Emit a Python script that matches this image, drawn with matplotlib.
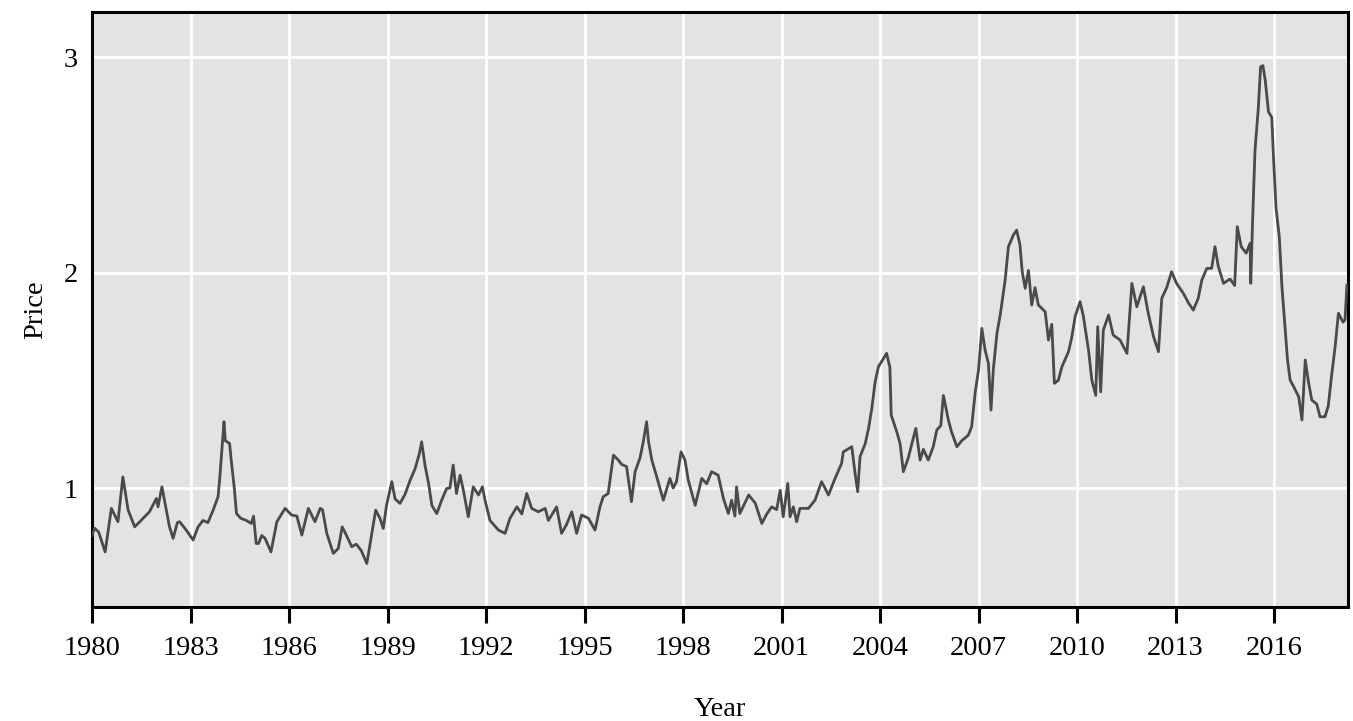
import matplotlib
matplotlib.use("Agg")
import matplotlib.pyplot as plt

years = [
    1980.00, 1980.08, 1980.20, 1980.40, 1980.59, 1980.79, 1980.94, 1981.10, 1981.30, 1981.75,
    1981.96, 1982.01, 1982.13, 1982.36, 1982.47, 1982.60, 1982.67, 1982.87, 1983.08, 1983.23,
    1983.38, 1983.53, 1983.69, 1983.84, 1983.89, 1984.02, 1984.06, 1984.19, 1984.24, 1984.34,
    1984.40, 1984.53, 1984.70, 1984.85, 1984.92, 1985.00, 1985.07, 1985.17, 1985.27, 1985.45,
    1985.63, 1985.88, 1986.08, 1986.24, 1986.39, 1986.59, 1986.79, 1986.95, 1987.02, 1987.15,
    1987.35, 1987.50, 1987.62, 1987.72, 1987.91, 1988.05, 1988.20, 1988.37, 1988.47, 1988.57,
    1988.64, 1988.77, 1988.87, 1988.97, 1989.13, 1989.23, 1989.38, 1989.53, 1989.69, 1989.84,
    1989.97, 1990.04, 1990.14, 1990.25, 1990.35, 1990.50, 1990.65, 1990.80, 1990.90, 1991.00,
    1991.10, 1991.21, 1991.31, 1991.46, 1991.61, 1991.77, 1991.89, 1991.97, 1992.12, 1992.38,
    1992.58, 1992.73, 1992.94, 1993.09, 1993.24, 1993.39, 1993.59, 1993.80, 1993.90, 1994.15,
    1994.30, 1994.45, 1994.61, 1994.76, 1994.91, 1995.12, 1995.32, 1995.47, 1995.57, 1995.72,
    1995.88, 1996.03, 1996.13, 1996.28, 1996.43, 1996.54, 1996.69, 1996.79, 1996.89, 1996.95,
    1997.05, 1997.20, 1997.40, 1997.60, 1997.70, 1997.80, 1997.94, 1998.06, 1998.16, 1998.37,
    1998.57, 1998.72, 1998.87, 1999.07, 1999.23, 1999.38, 1999.48, 1999.58, 1999.63, 1999.73,
    2000.00, 2000.20, 2000.40, 2000.55, 2000.70, 2000.85, 2000.96, 2001.05, 2001.19, 2001.26,
    2001.36, 2001.46, 2001.56, 2001.82, 2002.02, 2002.22, 2002.43, 2002.63, 2002.83, 2002.88,
    2003.14, 2003.24, 2003.32, 2003.39, 2003.55, 2003.65, 2003.75, 2003.85, 2003.95, 2004.20,
    2004.30, 2004.34, 2004.51, 2004.61, 2004.71, 2004.86, 2004.97, 2005.09, 2005.22, 2005.32,
    2005.47, 2005.62, 2005.73, 2005.85, 2005.93, 2006.08, 2006.18, 2006.34, 2006.49, 2006.69,
    2006.79, 2006.90, 2007.00, 2007.10, 2007.20, 2007.30, 2007.38, 2007.45, 2007.56, 2007.66,
    2007.81, 2007.91, 2008.06, 2008.16, 2008.26, 2008.33, 2008.42, 2008.52, 2008.62, 2008.72,
    2008.82, 2009.03, 2009.13, 2009.23, 2009.31, 2009.43, 2009.54, 2009.74, 2009.84, 2009.94,
    2010.09, 2010.19, 2010.35, 2010.45, 2010.57, 2010.63, 2010.72, 2010.80, 2010.96, 2011.10,
    2011.31, 2011.52, 2011.67, 2011.82, 2012.02, 2012.17, 2012.33, 2012.48, 2012.58, 2012.73,
    2012.88, 2013.03, 2013.24, 2013.39, 2013.54, 2013.69, 2013.80, 2013.95, 2014.10, 2014.20,
    2014.30, 2014.46, 2014.66, 2014.80, 2014.88, 2015.00, 2015.15, 2015.27, 2015.29, 2015.35,
    2015.42, 2015.52, 2015.59, 2015.66, 2015.73, 2015.83, 2015.93, 2015.98, 2016.06, 2016.16,
    2016.24, 2016.34, 2016.41, 2016.49, 2016.60, 2016.75, 2016.85, 2016.95, 2017.05, 2017.15,
    2017.30, 2017.40, 2017.55, 2017.65, 2017.76, 2017.86, 2017.96, 2018.10, 2018.16, 2018.22,
]

prices = [
    0.780, 0.814, 0.797, 0.704, 0.906, 0.844, 1.052, 0.898, 0.820, 0.890,
    0.952, 0.913, 1.006, 0.820, 0.767, 0.840, 0.844, 0.805, 0.759, 0.820,
    0.850, 0.840, 0.898, 0.960, 1.045, 1.308, 1.220, 1.207, 1.130, 0.990,
    0.882, 0.860, 0.850, 0.836, 0.870, 0.743, 0.743, 0.780, 0.767, 0.704,
    0.844, 0.906, 0.875, 0.870, 0.782, 0.906, 0.844, 0.906, 0.900, 0.790,
    0.697, 0.720, 0.820, 0.790, 0.728, 0.740, 0.710, 0.650, 0.743, 0.836,
    0.898, 0.860, 0.813, 0.920, 1.030, 0.950, 0.929, 0.970, 1.037, 1.090,
    1.160, 1.215, 1.107, 1.022, 0.920, 0.882, 0.944, 0.998, 1.000, 1.107,
    0.975, 1.060, 0.990, 0.867, 1.006, 0.968, 1.006, 0.944, 0.850, 0.805,
    0.790, 0.860, 0.913, 0.880, 0.975, 0.906, 0.890, 0.906, 0.850, 0.913,
    0.790, 0.830, 0.890, 0.790, 0.875, 0.860, 0.805, 0.913, 0.960, 0.975,
    1.153, 1.130, 1.110, 1.100, 0.937, 1.076, 1.140, 1.215, 1.308, 1.215,
    1.130, 1.052, 0.944, 1.045, 1.000, 1.030, 1.168, 1.130, 1.037, 0.920,
    1.045, 1.020, 1.076, 1.060, 0.952, 0.882, 0.944, 0.870, 1.006, 0.882,
    0.968, 0.930, 0.836, 0.880, 0.913, 0.900, 0.990, 0.867, 1.022, 0.867,
    0.913, 0.844, 0.906, 0.906, 0.944, 1.030, 0.968, 1.045, 1.115, 1.168,
    1.192, 1.068, 0.983, 1.145, 1.207, 1.277, 1.370, 1.493, 1.563, 1.625,
    1.560, 1.339, 1.261, 1.207, 1.076, 1.140, 1.207, 1.277, 1.130, 1.180,
    1.130, 1.192, 1.270, 1.290, 1.430, 1.316, 1.260, 1.192, 1.220, 1.246,
    1.285, 1.447, 1.548, 1.741, 1.640, 1.579, 1.362, 1.550, 1.718, 1.803,
    1.965, 2.120, 2.174, 2.197, 2.130, 2.004, 1.927, 2.010, 1.849, 1.930,
    1.850, 1.818, 1.687, 1.760, 1.486, 1.500, 1.563, 1.633, 1.700, 1.795,
    1.865, 1.800, 1.640, 1.501, 1.430, 1.749, 1.447, 1.733, 1.803, 1.710,
    1.687, 1.625, 1.950, 1.841, 1.934, 1.810, 1.702, 1.633, 1.880, 1.930,
    2.004, 1.950, 1.903, 1.860, 1.826, 1.880, 1.965, 2.019, 2.020, 2.120,
    2.030, 1.950, 1.970, 1.940, 2.213, 2.120, 2.090, 2.136, 1.950, 2.259,
    2.568, 2.762, 2.955, 2.960, 2.893, 2.746, 2.720, 2.545, 2.298, 2.166,
    1.934, 1.733, 1.594, 1.501, 1.470, 1.424, 1.316, 1.594, 1.490, 1.408,
    1.390, 1.331, 1.331, 1.380, 1.532, 1.656, 1.811, 1.770, 1.780, 1.942,
]

x_ticks = [1980, 1983, 1986, 1989, 1992, 1995, 1998, 2001, 2004, 2007, 2010, 2013, 2016]
y_ticks = [1, 2, 3]

plt.rcParams['font.family'] = ['Liberation Serif', 'DejaVu Serif']

fig = plt.figure(figsize=(13.53, 7.21), dpi=100)
ax = fig.add_axes([0.068, 0.158, 0.9285, 0.8254])
ax.set_facecolor('#e3e3e3')
ax.plot(years, prices, color='#4a4a4a', linewidth=2.0, zorder=3)

ax.set_xlim(1980, 2018.26)
ax.set_ylim(0.448, 3.209)
ax.set_xticks(x_ticks)
ax.set_xticklabels([str(t) for t in x_ticks])
ax.set_yticks(y_ticks)
ax.set_yticklabels([str(t) for t in y_ticks])
ax.grid(True, color='white', linewidth=2.0, zorder=1)
ax.set_axisbelow(True)

for s in ax.spines.values():
    s.set_color('black')
    s.set_linewidth(2.2)

ax.tick_params(axis='x', direction='out', length=11.5, width=2.2, color='black',
               labelsize=20.5, pad=9)
ax.tick_params(axis='y', length=0, labelsize=20.5, pad=10)

ax.set_xlabel('Year', fontsize=20.5, labelpad=26)
ax.set_ylabel('Price', fontsize=20.5, labelpad=11)

fig.savefig('out.png', dpi=100, facecolor='white')
